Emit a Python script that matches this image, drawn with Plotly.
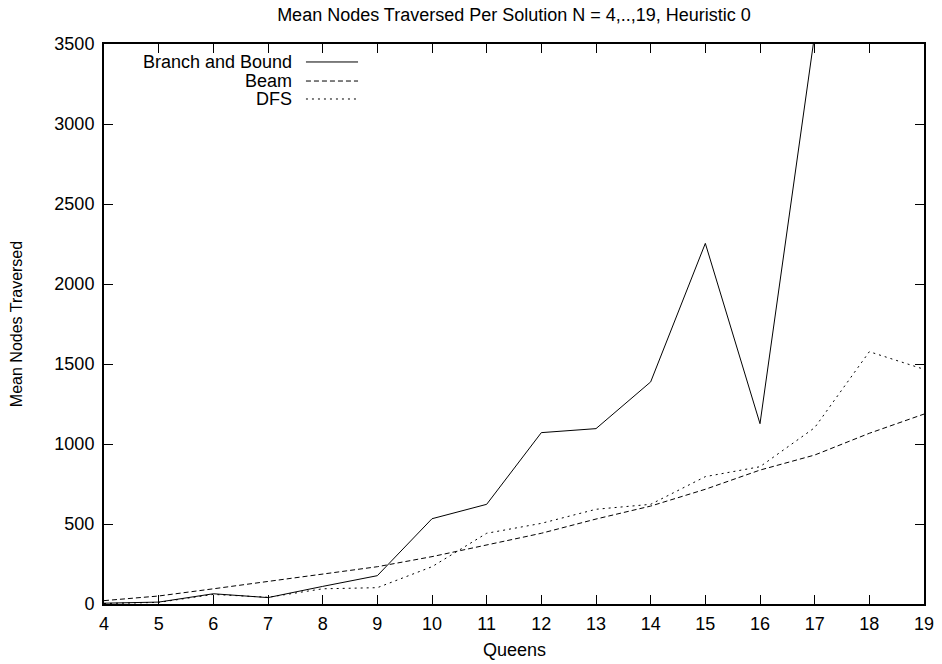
import plotly.graph_objects as go

# Number of queens (board size)
queens = list(range(4, 20))

# Mean nodes traversed per solution for each search strategy
branch_and_bound = [5, 12, 64, 40, 110, 177, 533, 623, 1071, 1096, 1388, 2254, 1127, 3560, 5200, 7400]
beam = [21, 50, 95, 140, 185, 233, 296, 369, 442, 531, 612, 717, 837, 931, 1067, 1187]
dfs = [3, 10, 60, 42, 95, 102, 233, 442, 504, 592, 623, 796, 858, 1102, 1577, 1467]

series_names = ["Branch and Bound", "Beam", "DFS"]
series_values = [branch_and_bound, beam, dfs]
series_dash = ["solid", "5px,3px", "2px,4px"]

FONT = "Liberation Sans, Arial, Helvetica, sans-serif"

fig = go.Figure()
for name, vals, dash in zip(series_names, series_values, series_dash):
    fig.add_trace(go.Scatter(
        x=queens, y=vals, mode="lines", name=name,
        line=dict(color="black", width=1, dash=dash),
        showlegend=False,
    ))

# Key in the upper-left corner: right-aligned labels followed by line samples
key_rows_y = [0.9679, 0.9339, 0.9018]
for name, dash, ky in zip(series_names, series_dash, key_rows_y):
    fig.add_annotation(
        x=0.2305, y=ky, xref="paper", yref="paper", text=name,
        showarrow=False, xanchor="right", yanchor="middle",
        height=16, valign="middle", borderpad=0,
        font=dict(family=FONT, size=18, color="black"),
    )
    fig.add_shape(
        type="line", xref="paper", yref="paper",
        x0=0.2463, x1=0.3098, y0=ky, y1=ky,
        line=dict(color="black", width=1, dash=dash),
    )

# X axis title placed below the tick labels
fig.add_annotation(
    x=0.5, y=-0.0821, xref="paper", yref="paper", text="Queens",
    showarrow=False, xanchor="center", yanchor="middle",
    font=dict(family=FONT, size=18, color="black"),
)

axis_common = dict(
    showgrid=False, zeroline=False,
    showline=True, linecolor="black", linewidth=2, mirror="allticks",
    ticks="inside", ticklen=9, tickwidth=1, tickcolor="black",
    tickfont=dict(family=FONT, size=18, color="black"),
)

fig.update_layout(
    width=942, height=664,
    margin=dict(l=104, r=18, t=44, b=60),
    paper_bgcolor="white", plot_bgcolor="white",
    font=dict(family=FONT, color="black"),
    title=dict(
        text="Mean Nodes Traversed Per Solution N = 4,..,19, Heuristic 0",
        x=0.5, xref="paper", xanchor="center",
        y=1 - 15 / 664, yref="container", yanchor="middle",
        font=dict(family=FONT, size=18, color="black"),
    ),
    xaxis=dict(
        range=[4, 19], tickmode="array", tickvals=queens,
        ticklabelstandoff=2, automargin=False,
        **axis_common,
    ),
    yaxis=dict(
        range=[0, 3500], tickmode="linear", tick0=0, dtick=500,
        ticklabelstandoff=4,
        title=dict(text="Mean Nodes Traversed", standoff=28, font=dict(family=FONT, size=16)),
        **axis_common,
    ),
)

fig.write_html("out.html")
